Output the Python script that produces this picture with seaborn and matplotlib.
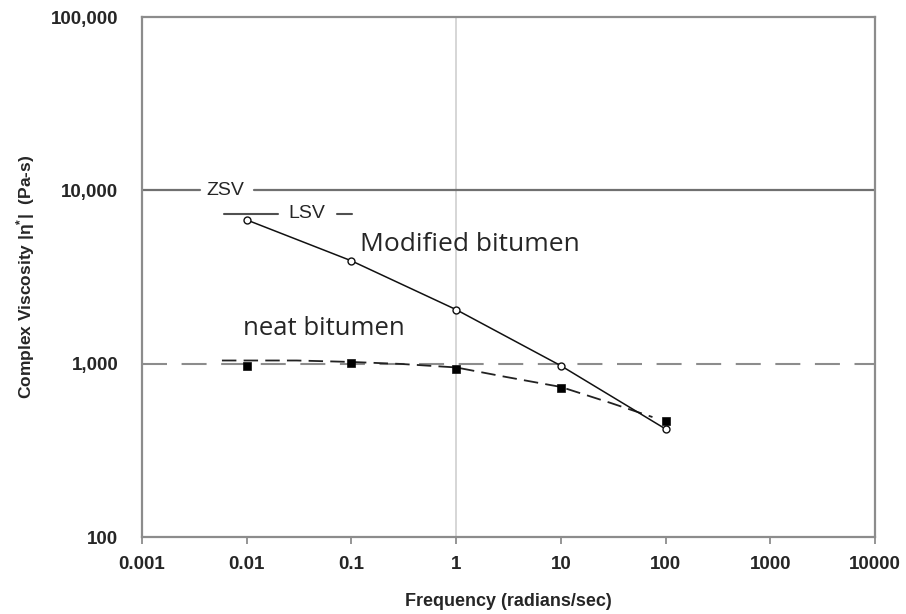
import numpy as np
import pandas as pd
import seaborn as sns
import matplotlib.pyplot as plt

# donnees
freq = [0.01, 0.1, 1, 10, 100]
modified = [6750, 3920, 2050, 973, 420]
neat = [970, 1004, 929, 721, 469]

# courbe de tendance (pointillés) du bitume pur
trend_freq = [0.0058, 0.03, 0.1, 0.3, 1, 3, 10, 30, 75]
trend_visc = [1043, 1043, 1023, 996, 951, 838, 734, 593, 492]

zsv = 10000
lsv = 7310
neat_level = 1000

x_ticks = [0.001, 0.01, 0.1, 1, 10, 100, 1000, 10000]
x_labels = ['0.001', '0.01', '0.1', '1', '10', '100', '1000', '10000']
y_ticks = [100, 1000, 10000, 100000]
y_labels = ['100', '1,000', '10,000', '100,000']

df_mod = pd.DataFrame({'freq': freq, 'visc': modified})
df_neat = pd.DataFrame({'freq': freq, 'visc': neat})
df_trend = pd.DataFrame({'freq': trend_freq, 'visc': trend_visc})

sns.set_style('white')
plt.rcParams['font.family'] = ['Liberation Sans', 'DejaVu Sans']
plt.rcParams['mathtext.default'] = 'regular'

fig = plt.figure(figsize=(9.06, 6.14), dpi=100)
ax = fig.add_axes([142 / 906, 1 - 537 / 614, (875 - 142) / 906, (537 - 17) / 614])
ax.set_xscale('log')
ax.set_yscale('log')
ax.set_xlim(0.001, 10000)
ax.set_ylim(100, 100000)

grey = '#8c8c8c'

# lignes de référence
ax.axvline(1, color='#cfcfcf', lw=1.2, zorder=1)
ax.axhline(neat_level, color=grey, lw=1.5, ls=(0, (12, 7)), zorder=1)
ax.plot([0.001, 0.00358], [zsv, zsv], color='#707070', lw=1.6, zorder=1)
ax.plot([0.01175, 10000], [zsv, zsv], color='#707070', lw=1.6, zorder=1)
ax.text(0.00621, zsv, 'ZSV', ha='center', va='center', fontsize=14)
ax.plot([0.00607, 0.0199], [lsv, lsv], color='#505050', lw=1.5, zorder=1)
ax.plot([0.0728, 0.1014], [lsv, lsv], color='#505050', lw=1.5, zorder=1)
ax.text(0.0377, lsv, 'LSV', ha='center', va='center', fontsize=14)

# séries
sns.lineplot(data=df_trend, x='freq', y='visc', ax=ax, color='#222222', lw=1.3,
             linestyle=(0, (8, 4)), zorder=3)
sns.lineplot(data=df_mod, x='freq', y='visc', ax=ax, color='#111111', lw=1.1,
             marker='o', markersize=5, markerfacecolor='white',
             markeredgecolor='#111111', markeredgewidth=1, zorder=4)
sns.scatterplot(data=df_neat, x='freq', y='visc', ax=ax, marker='s', s=32,
                color='black', edgecolor='black', zorder=5)

ax.text(0.121, 4900, 'Modified bitumen', family=['Open Sans', 'DejaVu Sans'],
        fontsize=19, ha='left', va='center')
ax.text(0.0092, 1585, 'neat bitumen', family=['Open Sans', 'DejaVu Sans'],
        fontsize=18.5, ha='left', va='center')

ax.set_xticks(x_ticks)
ax.set_xticklabels(x_labels, fontsize=13.5, fontweight='bold')
ax.set_yticks(y_ticks)
ax.set_yticklabels(y_labels, fontsize=13.5, fontweight='bold')
ax.minorticks_off()
ax.tick_params(axis='x', length=5, width=1.3, color=grey, pad=9, bottom=True)
ax.tick_params(axis='y', length=0, pad=17)

for sp in ax.spines.values():
    sp.set_color(grey)
    sp.set_linewidth(1.6)

ax.set_xlabel('Frequency (radians/sec)', fontsize=13, fontweight='bold', labelpad=14)
ax.set_ylabel('Complex Viscosity |η$^{*}$|  (Pa-s)', fontsize=12.5,
              fontweight='bold', labelpad=10)

plt.savefig('out.png', dpi=100)
